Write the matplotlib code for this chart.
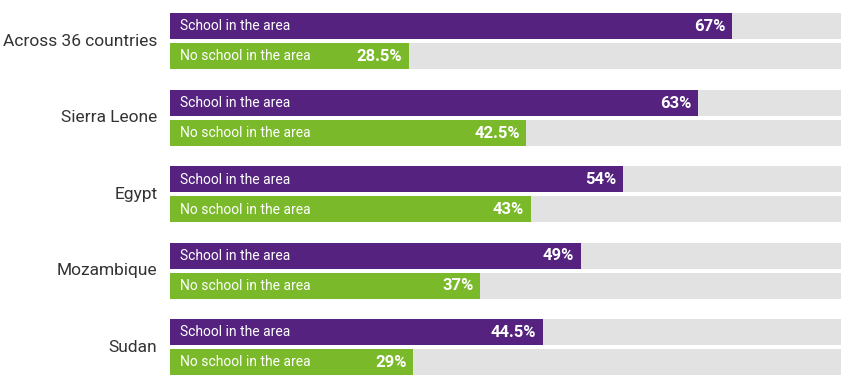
import matplotlib
matplotlib.use("Agg")
import matplotlib.pyplot as plt

countries = ["Across 36 countries", "Sierra Leone", "Egypt", "Mozambique", "Sudan"]
school = [67, 63, 54, 49, 44.5]
no_school = [28.5, 42.5, 43, 37, 29]
school_lbl = ["67%", "63%", "54%", "49%", "44.5%"]
no_school_lbl = ["28.5%", "42.5%", "43%", "37%", "29%"]
series_names = ["School in the area", "No school in the area"]
axis_max = 80

purple = "#55237f"
green = "#7ab929"
grey = "#e2e2e2"

plt.rcParams["font.family"] = ["Roboto", "DejaVu Sans"]

fig = plt.figure(figsize=(8.5, 3.84), dpi=100)
ax = fig.add_axes([170 / 850, 0, (841 - 170) / 850, 1])
ax.set_xlim(0, axis_max)
ax.set_ylim(384, 0)
ax.axis("off")

h = 26
step = 76.5
for i, name in enumerate(countries):
    yp = 26 + i * step
    yg = yp + 30
    for y, val, lbl, col, sname in [(yp, school[i], school_lbl[i], purple, series_names[0]),
                                    (yg, no_school[i], no_school_lbl[i], green, series_names[1])]:
        ax.barh(y, axis_max, height=h, color=grey, left=0)
        ax.barh(y, val, height=h, color=col, left=0)
        ax.text(1.2, y + 0.5, sname, color="white", fontsize=10, va="center", ha="left")
        ax.text(val - 0.8, y + 0.5, lbl, color="white", fontsize=12, fontweight="bold",
                va="center", ha="right")
    ax.text(-1.5, (yp + yg) / 2, name, fontsize=12.5, color="#333333",
            va="center", ha="right")

fig.savefig("out.png", dpi=100)
